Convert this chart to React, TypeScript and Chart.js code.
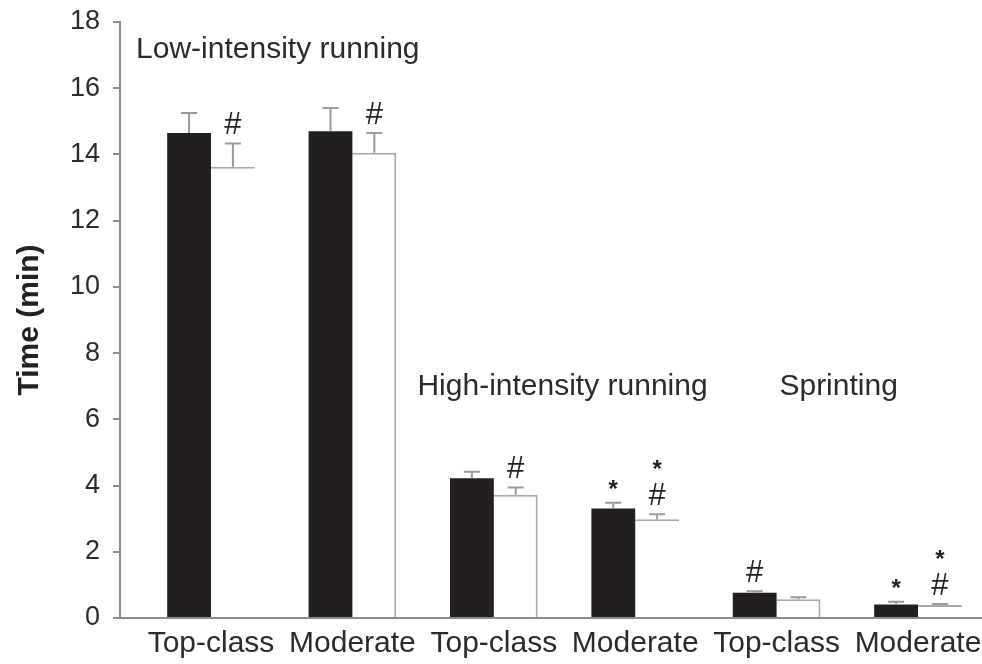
import { useEffect, useRef } from "react";
import { Chart, registerables } from "chart.js";

Chart.register(...registerables);

// Time spent (min) in each running category, first vs second half
const categories = ["Top-class", "Moderate", "Top-class", "Moderate", "Top-class", "Moderate"];
const firstHalf = [14.65, 14.7, 4.22, 3.31, 0.76, 0.41];
const firstHalfErr = [0.6, 0.7, 0.2, 0.17, 0.05, 0.08];
const secondHalf = [13.63, 14.05, 3.72, 2.98, 0.57, 0.39];
const secondHalfErr = [0.7, 0.6, 0.22, 0.15, 0.06, 0.03];
// significance marks, listed bottom to top above each bar
const firstHalfMarks: string[][] = [[], [], [], ["*"], ["#"], ["*"]];
const secondHalfMarks: string[][] = [["#"], ["#"], ["#"], ["#", "*"], [], ["#", "*"]];
const yTicks = [0, 2, 4, 6, 8, 10, 12, 14, 16, 18];
const groupLabels = ["Low-intensity running", "High-intensity running", "Sprinting"];

// where each group heading starts, in axis units (category index, minutes)
const groupLabelAnchors: [number, number][] = [
  [-0.53, 17.15],
  [1.46, 6.98],
  [4.02, 6.98],
];
// outlines of the open bars: whether the right edge is drawn
const openBarRightEdge = [false, true, true, false, true, false];

const FONT = "'Liberation Sans', Arial, Helvetica, sans-serif";
const TEXT = "#2b2b2b";
const AXIS = "#8c8c8c";
const ERR = "#9a9a9a";
const BLACK = "#231f20";

const overlayPlugin = {
  id: "errorsAndMarks",
  afterDatasetsDraw(chart: any) {
    const { ctx } = chart;
    const xs = chart.scales.x;
    const ys = chart.scales.y;
    const series = [
      { values: firstHalf, errs: firstHalfErr, marks: firstHalfMarks },
      { values: secondHalf, errs: secondHalfErr, marks: secondHalfMarks },
    ];
    ctx.save();
    series.forEach((s, di) => {
      const meta = chart.getDatasetMeta(di);
      meta.data.forEach((bar: any, i: number) => {
        const top = ys.getPixelForValue(s.values[i]);
        const cap = ys.getPixelForValue(s.values[i] + s.errs[i]);
        ctx.strokeStyle = ERR;
        ctx.lineWidth = 2;
        ctx.beginPath();
        ctx.moveTo(bar.x, top);
        ctx.lineTo(bar.x, cap);
        ctx.moveTo(bar.x - 8, cap);
        ctx.lineTo(bar.x + 8, cap);
        ctx.stroke();

        let cy = cap - 20;
        s.marks[i].forEach((m, k) => {
          ctx.fillStyle = "#222";
          ctx.textAlign = "center";
          ctx.textBaseline = "alphabetic";
          if (m === "#") {
            const size = 31;
            ctx.font = `${size}px ${FONT}`;
            ctx.fillText(m, bar.x, cy + size * 0.35);
          } else {
            const size = 24;
            ctx.font = `bold ${size}px ${FONT}`;
            ctx.fillText(m, bar.x, cy + size * 0.58);
          }
          cy -= k === 0 ? 31 : 30;
        });
      });
    });

    ctx.fillStyle = TEXT;
    ctx.font = `30px ${FONT}`;
    ctx.textAlign = "left";
    ctx.textBaseline = "middle";
    groupLabels.forEach((label, i) => {
      const [ax, ay] = groupLabelAnchors[i];
      ctx.fillText(label, xs.getPixelForValue(ax), ys.getPixelForValue(ay));
    });
    ctx.restore();
  },
};

export default function App() {
  const canvasRef = useRef<HTMLCanvasElement | null>(null);

  useEffect(() => {
    if (!canvasRef.current) return;
    const chart = new Chart(canvasRef.current, {
      type: "bar",
      data: {
        datasets: [
          {
            label: "First half",
            data: firstHalf.map((v, i) => ({ x: i, y: v })),
            backgroundColor: BLACK,
            borderWidth: 0,
          },
          {
            label: "Second half",
            data: secondHalf.map((v, i) => ({ x: i, y: v })),
            backgroundColor: "#ffffff",
            borderColor: "#a8a8a8",
            borderWidth: (c: any) => ({
              top: 2,
              left: 0,
              bottom: 0,
              right: openBarRightEdge[c.dataIndex] ? 2 : 0,
            }),
          },
        ],
      },
      options: {
        responsive: false,
        animation: false,
        events: [],
        categoryPercentage: 0.62,
        barPercentage: 1,
        layout: { padding: { top: 22, left: 0, right: 0, bottom: 0 } },
        plugins: { legend: { display: false }, tooltip: { enabled: false } },
        scales: {
          x: {
            type: "linear",
            offset: false,
            bounds: "data",
            grace: 0,
            min: -0.6436,
            max: 5.4526,
            afterBuildTicks: (scale: any) => {
              scale.ticks = categories.map((_, i) => ({ value: i }));
            },
            afterFit: (scale: any) => {
              scale.height = 46;
              scale.paddingLeft = 0;
              scale.paddingRight = 0;
            },
            grid: { display: false, drawTicks: false, offset: false },
            border: { display: true, color: AXIS, width: 2 },
            ticks: {
              autoSkip: false,
              maxRotation: 0,
              padding: 8,
              color: TEXT,
              font: { family: FONT, size: 30 },
              callback: (v: any) => categories[v] ?? "",
            },
          },
          y: {
            min: 0,
            max: 18,
            afterBuildTicks: (scale: any) => {
              scale.ticks = yTicks.map((v) => ({ value: v }));
            },
            afterFit: (scale: any) => {
              scale.width = 120;
              scale.paddingTop = 0;
              scale.paddingBottom = 0;
            },
            grid: {
              drawOnChartArea: false,
              drawTicks: true,
              tickLength: 7,
              color: AXIS,
              lineWidth: 2,
            },
            border: { display: true, color: AXIS, width: 2 },
            ticks: {
              padding: 13,
              color: TEXT,
              font: { family: FONT, size: 27 },
            },
            title: {
              display: true,
              text: "Time (min)",
              color: "#222",
              font: { family: FONT, size: 30, weight: "bold" },
              padding: { top: 12, bottom: 0 },
            },
          },
        },
      },
      plugins: [overlayPlugin],
    } as any);
    return () => chart.destroy();
  }, []);

  return (
    <div style={{ position: "fixed", left: 0, top: 0, width: 982, height: 664, background: "#fff" }}>
      <canvas ref={canvasRef} width={982} height={664} style={{ display: "block" }} />
    </div>
  );
}
